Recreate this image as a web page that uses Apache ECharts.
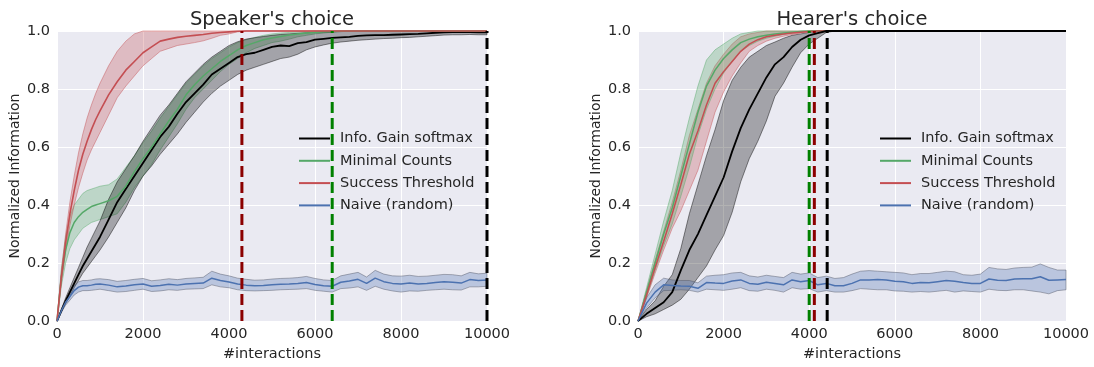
<!DOCTYPE html>
<html>
<head>
<meta charset="utf-8">
<script src="https://cdn.jsdelivr.net/npm/echarts@6/dist/echarts.min.js"></script>
<style>html,body{margin:0;padding:0;background:#fff}#c{width:1094px;height:367px}</style>
</head>
<body>
<div id="c"></div>
<script>
// ---------------- DATA ----------------
const NAMES = ['Info. Gain softmax', 'Minimal Counts', 'Success Threshold', 'Naive (random)'];
const TITLES = ["Speaker's choice", "Hearer's choice"];
const X_TICKS = [0, 2000, 4000, 6000, 8000, 10000];
const Y_TICKS = [0, 0.2, 0.4, 0.6, 0.8, 1.0];

// Left chart (Speaker's choice)
const L_X = [0,100,200,300,400,500,600,700,800,900,1000,1200,1400,1600,1800,2000,2200,2400,2600,2800,3000,3200,3400,3600,3800,4000,4200,4400,4600,4800,5000,5200,5400,5600,5800,6000,6200,6400,6600,6800,7000,7200,7400,7600,7800,8000,8200,8400,8600,8800,9000,9200,9400,9600,9800,10000];
const L_INFO = [0,0.035,0.07,0.10,0.13,0.16,0.19,0.215,0.24,0.265,0.29,0.35,0.41,0.455,0.50,0.545,0.59,0.635,0.67,0.715,0.755,0.785,0.815,0.85,0.87,0.89,0.91,0.92,0.925,0.935,0.945,0.95,0.948,0.958,0.962,0.97,0.973,0.976,0.978,0.98,0.983,0.985,0.986,0.986,0.987,0.988,0.989,0.99,0.992,0.994,0.995,0.996,0.996,0.996,0.995,0.995];
const L_INFO_LO = [0,0.03,0.06,0.085,0.115,0.14,0.165,0.185,0.205,0.225,0.245,0.29,0.34,0.39,0.45,0.50,0.535,0.575,0.61,0.645,0.685,0.72,0.755,0.785,0.81,0.83,0.85,0.865,0.875,0.885,0.895,0.905,0.91,0.92,0.935,0.945,0.952,0.958,0.962,0.965,0.968,0.97,0.972,0.974,0.975,0.977,0.978,0.98,0.982,0.984,0.986,0.987,0.987,0.988,0.987,0.987];
const L_INFO_HI = [0,0.04,0.08,0.115,0.15,0.185,0.22,0.255,0.285,0.315,0.345,0.42,0.48,0.525,0.57,0.62,0.665,0.71,0.745,0.785,0.825,0.855,0.885,0.91,0.93,0.95,0.963,0.972,0.977,0.981,0.985,0.988,0.99,0.992,0.994,0.995,0.996,0.997,0.998,0.999,0.999,1,1,1,1,1,1,1,1,1,1,1,1,1,1,1];
const L_MIN = [0,0.15,0.245,0.305,0.34,0.36,0.375,0.385,0.395,0.40,0.405,0.415,0.43,0.465,0.515,0.56,0.60,0.645,0.69,0.73,0.78,0.815,0.845,0.87,0.895,0.915,0.935,0.95,0.96,0.97,0.976,0.981,0.986,0.99,0.993,0.995,0.997,0.998,0.999,1,1,1,1,1,1,1,1,1,1,1,1,1,1,1,1,1];
const L_MIN_LO = [0,0.12,0.20,0.25,0.28,0.30,0.32,0.33,0.34,0.345,0.35,0.36,0.37,0.41,0.46,0.50,0.54,0.59,0.635,0.68,0.73,0.77,0.80,0.83,0.86,0.885,0.905,0.925,0.94,0.95,0.96,0.965,0.972,0.98,0.985,0.99,0.993,0.996,1,1,1,1,1,1,1,1,1,1,1,1,1,1,1,1,1,1];
const L_MIN_HI = [0,0.18,0.29,0.36,0.40,0.42,0.44,0.45,0.455,0.46,0.465,0.47,0.49,0.53,0.57,0.615,0.655,0.70,0.74,0.78,0.82,0.85,0.88,0.905,0.925,0.945,0.96,0.97,0.978,0.985,0.99,0.993,0.995,0.997,0.998,1,1,1,1,1,1,1,1,1,1,1,1,1,1,1,1,1,1,1,1,1];
const L_SUC = [0,0.15,0.27,0.37,0.45,0.52,0.575,0.62,0.66,0.695,0.725,0.78,0.825,0.865,0.895,0.925,0.945,0.965,0.972,0.978,0.982,0.985,0.988,0.992,0.995,0.997,0.999,1,1,1,1,1,1,1,1,1,1,1,1,1,1,1,1,1,1,1,1,1,1,1,1,1,1,1,1,1];
const L_SUC_LO = [0,0.13,0.24,0.33,0.40,0.46,0.51,0.555,0.59,0.62,0.65,0.71,0.77,0.81,0.845,0.88,0.905,0.93,0.94,0.95,0.955,0.96,0.966,0.975,0.985,0.99,0.997,1,1,1,1,1,1,1,1,1,1,1,1,1,1,1,1,1,1,1,1,1,1,1,1,1,1,1,1,1];
const L_SUC_HI = [0,0.17,0.30,0.41,0.50,0.58,0.645,0.70,0.745,0.785,0.82,0.88,0.93,0.965,0.99,1,1,1,1,1,1,1,1,1,1,1,1,1,1,1,1,1,1,1,1,1,1,1,1,1,1,1,1,1,1,1,1,1,1,1,1,1,1,1,1,1];
const L_NAI = [0,0.035,0.065,0.085,0.105,0.117,0.122,0.122,0.124,0.127,0.128,0.124,0.118,0.121,0.125,0.128,0.12,0.123,0.127,0.124,0.128,0.13,0.131,0.148,0.14,0.135,0.128,0.124,0.122,0.123,0.125,0.127,0.128,0.13,0.133,0.126,0.122,0.12,0.134,0.138,0.144,0.13,0.148,0.136,0.13,0.128,0.131,0.128,0.13,0.133,0.136,0.134,0.131,0.143,0.14,0.142];
const L_NAI_LO = [0,0.03,0.055,0.072,0.09,0.1,0.105,0.105,0.106,0.108,0.11,0.105,0.1,0.102,0.106,0.11,0.102,0.104,0.108,0.106,0.11,0.111,0.112,0.125,0.118,0.115,0.108,0.105,0.104,0.105,0.106,0.108,0.109,0.11,0.112,0.106,0.103,0.1,0.112,0.114,0.118,0.106,0.12,0.11,0.104,0.1,0.104,0.103,0.106,0.108,0.11,0.108,0.107,0.118,0.118,0.12];
const L_NAI_HI = [0,0.04,0.075,0.1,0.122,0.135,0.14,0.14,0.142,0.145,0.146,0.143,0.137,0.14,0.144,0.147,0.139,0.142,0.146,0.143,0.147,0.149,0.151,0.172,0.162,0.156,0.148,0.144,0.141,0.142,0.145,0.147,0.148,0.15,0.154,0.147,0.142,0.14,0.156,0.162,0.168,0.152,0.175,0.162,0.156,0.155,0.158,0.154,0.155,0.158,0.161,0.16,0.156,0.168,0.163,0.165];
const L_VLINES = [4300, 6400, 10000];

// Right chart (Hearer's choice)
const R_X = [0,200,400,600,800,1000,1200,1400,1600,1800,2000,2200,2400,2600,2800,3000,3200,3400,3600,3800,4000,4200,4400,4600,4800,5000,5200,5400,5600,5800,6000,6200,6400,6600,6800,7000,7200,7400,7600,7800,8000,8200,8400,8600,8800,9000,9200,9400,9600,9800,10000];
const R_INFO = [0,0.025,0.045,0.065,0.1,0.175,0.245,0.3,0.365,0.43,0.495,0.585,0.665,0.73,0.785,0.84,0.885,0.91,0.945,0.97,0.985,0.993,1,1,1,1,1,1,1,1,1,1,1,1,1,1,1,1,1,1,1,1,1,1,1,1,1,1,1,1,1];
const R_INFO_LO = [0,0.015,0.025,0.04,0.055,0.075,0.11,0.15,0.19,0.245,0.295,0.375,0.48,0.56,0.62,0.69,0.775,0.82,0.875,0.925,0.955,0.975,0.995,1,1,1,1,1,1,1,1,1,1,1,1,1,1,1,1,1,1,1,1,1,1,1,1,1,1,1,1];
const R_INFO_HI = [0,0.04,0.07,0.12,0.16,0.25,0.37,0.47,0.57,0.66,0.76,0.83,0.875,0.91,0.93,0.95,0.962,0.975,0.985,0.99,0.995,1,1,1,1,1,1,1,1,1,1,1,1,1,1,1,1,1,1,1,1,1,1,1,1,1,1,1,1,1,1];
const R_MIN = [0,0.1,0.2,0.3,0.39,0.5,0.61,0.72,0.81,0.865,0.905,0.935,0.96,0.972,0.98,0.985,0.99,0.993,0.996,0.998,1,1,1,1,1,1,1,1,1,1,1,1,1,1,1,1,1,1,1,1,1,1,1,1,1,1,1,1,1,1,1];
const R_MIN_LO = [0,0.085,0.175,0.26,0.335,0.43,0.53,0.64,0.73,0.80,0.855,0.895,0.93,0.95,0.965,0.975,0.982,0.988,0.993,0.996,1,1,1,1,1,1,1,1,1,1,1,1,1,1,1,1,1,1,1,1,1,1,1,1,1,1,1,1,1,1,1];
const R_MIN_HI = [0,0.115,0.23,0.345,0.45,0.58,0.70,0.81,0.9,0.935,0.955,0.975,0.99,0.995,1,1,1,1,1,1,1,1,1,1,1,1,1,1,1,1,1,1,1,1,1,1,1,1,1,1,1,1,1,1,1,1,1,1,1,1,1];
const R_SUC = [0,0.09,0.185,0.275,0.37,0.47,0.575,0.655,0.745,0.82,0.86,0.895,0.93,0.955,0.97,0.98,0.985,0.99,0.993,0.996,0.998,1,1,1,1,1,1,1,1,1,1,1,1,1,1,1,1,1,1,1,1,1,1,1,1,1,1,1,1,1,1];
const R_SUC_LO = [0,0.08,0.165,0.245,0.32,0.38,0.45,0.52,0.62,0.72,0.79,0.845,0.89,0.93,0.95,0.965,0.975,0.982,0.988,0.993,0.997,1,1,1,1,1,1,1,1,1,1,1,1,1,1,1,1,1,1,1,1,1,1,1,1,1,1,1,1,1,1];
const R_SUC_HI = [0,0.105,0.21,0.31,0.41,0.52,0.64,0.73,0.82,0.88,0.92,0.955,0.98,0.99,0.995,1,1,1,1,1,1,1,1,1,1,1,1,1,1,1,1,1,1,1,1,1,1,1,1,1,1,1,1,1,1,1,1,1,1,1,1];
const R_NAI = [0,0.062,0.1,0.125,0.123,0.121,0.12,0.113,0.133,0.131,0.13,0.138,0.142,0.13,0.127,0.134,0.13,0.125,0.142,0.136,0.14,0.125,0.13,0.122,0.122,0.13,0.142,0.142,0.143,0.142,0.137,0.136,0.13,0.133,0.132,0.136,0.14,0.137,0.133,0.13,0.13,0.145,0.141,0.14,0.145,0.146,0.146,0.153,0.141,0.142,0.143];
const R_NAI_LO = [0,0.045,0.08,0.105,0.106,0.108,0.106,0.1,0.11,0.108,0.106,0.11,0.115,0.105,0.103,0.11,0.106,0.1,0.115,0.11,0.112,0.1,0.105,0.1,0.1,0.105,0.112,0.11,0.108,0.108,0.104,0.103,0.1,0.102,0.1,0.103,0.106,0.1,0.104,0.102,0.1,0.11,0.106,0.105,0.108,0.108,0.104,0.1,0.094,0.105,0.108];
const R_NAI_HI = [0,0.08,0.125,0.148,0.142,0.14,0.14,0.132,0.155,0.158,0.16,0.166,0.168,0.156,0.152,0.158,0.154,0.15,0.168,0.162,0.166,0.15,0.155,0.147,0.15,0.162,0.172,0.174,0.172,0.17,0.168,0.166,0.16,0.164,0.164,0.168,0.172,0.17,0.16,0.158,0.162,0.185,0.18,0.178,0.183,0.185,0.186,0.197,0.185,0.176,0.176];
const R_VLINES = [4000, 4120, 4420];

// ---------------- STYLE ----------------
const FONT = 'DejaVu Sans';
const TXT = '#262626';
const C_INFO = '#000000', C_MIN = '#55A868', C_SUC = '#C44E52', C_NAI = '#4C72B0';
const RGB = { info: '0,0,0', min: '85,168,104', suc: '196,78,82', nai: '76,114,176' };
const VLINE_COLORS = ['#8B0000', '#008000', '#000000'];
const VLINE_COLORS_R = ['#008000', '#8B0000', '#000000'];

function meanSeries(name, color, width, gi, xs, ys, z) {
  return {
    name, type: 'line', xAxisIndex: gi, yAxisIndex: gi,
    data: xs.map((x, i) => [x, ys[i]]),
    symbol: 'none', showSymbol: false, clip: false, silent: true, z,
    lineStyle: { color, width }, itemStyle: { color }
  };
}
function bandSeries(gi, xs, lo, hi, rgb, z, stroke) {
  return {
    type: 'custom', xAxisIndex: gi, yAxisIndex: gi, silent: true, z,
    data: [[xs[0], lo[0]]],
    renderItem: function (params, api) {
      const pts = [];
      for (let i = 0; i < xs.length; i++) pts.push(api.coord([xs[i], hi[i]]));
      for (let i = xs.length - 1; i >= 0; i--) pts.push(api.coord([xs[i], lo[i]]));
      return { type: 'polygon', shape: { points: pts },
        style: { fill: 'rgba(' + rgb + ',0.3)', stroke: stroke || ('rgba(' + rgb + ',0.45)'), lineWidth: 1 } };
    }
  };
}
function vlineSeries(gi, x, color, z) {
  return {
    type: 'line', xAxisIndex: gi, yAxisIndex: gi, data: [[x, 0], [x, 1]],
    symbol: 'none', clip: false, silent: true, z,
    lineStyle: { color, width: 3, type: [11, 5] }
  };
}

const grids = [
  { left: 57, top: 31, width: 430, height: 294 },
  { left: 638, top: 31, width: 428, height: 294 }
].map(g => Object.assign(g, { show: true, backgroundColor: '#EAEAF2', borderWidth: 0, containLabel: false }));

function xAxis(gi) {
  return {
    type: 'value', gridIndex: gi, min: 0, max: 10000, interval: 2000,
    name: '#interactions', nameLocation: 'middle', nameGap: 24,
    nameTextStyle: { fontFamily: FONT, fontSize: 14.5, color: TXT },
    axisLine: { show: false }, axisTick: { show: false },
    axisLabel: { fontFamily: FONT, fontSize: 14.5, color: TXT, margin: 6,
      customValues: X_TICKS, formatter: v => String(v) },
    splitLine: { show: true, lineStyle: { color: '#ffffff', width: 1 } }
  };
}
function yAxis(gi) {
  return {
    type: 'value', gridIndex: gi, min: 0, max: 1, interval: 0.2,
    name: 'Normalized Information', nameLocation: 'middle', nameGap: 35,
    nameTextStyle: { fontFamily: FONT, fontSize: 14, color: TXT },
    axisLine: { show: false }, axisTick: { show: false },
    axisLabel: { fontFamily: FONT, fontSize: 14.5, color: TXT, margin: 7,
      formatter: v => v.toFixed(1) },
    splitLine: { show: true, lineStyle: { color: '#ffffff', width: 1 } }
  };
}
const LEGEND_COLORS = [C_INFO, C_MIN, C_SUC, C_NAI];
function legend(left) {
  return {
    left, top: 131, padding: 0, orient: 'vertical',
    data: NAMES.map((n, i) => ({ name: n, icon: 'rect', itemStyle: { color: LEGEND_COLORS[i] } })),
    itemWidth: 31, itemHeight: 2, itemGap: 7.3, selectedMode: false,
    textStyle: { fontFamily: FONT, fontSize: 14.5, color: TXT, lineHeight: 14, padding: [0, 0, 0, 5] }
  };
}

const series = [
  // left bands
  bandSeries(0, L_X, L_MIN_LO, L_MIN_HI, RGB.min, 1),
  bandSeries(0, L_X, L_INFO_LO, L_INFO_HI, RGB.info, 1),
  bandSeries(0, L_X, L_SUC_LO, L_SUC_HI, RGB.suc, 1),
  bandSeries(0, L_X, L_NAI_LO, L_NAI_HI, RGB.nai, 1, 'rgba(80,85,100,0.45)'),
  meanSeries(NAMES[0], C_INFO, 1.8, 0, L_X, L_INFO, 3),
  meanSeries(NAMES[1], C_MIN, 1.5, 0, L_X, L_MIN, 3),
  meanSeries(NAMES[2], C_SUC, 1.6, 0, L_X, L_SUC, 4),
  meanSeries(NAMES[3], C_NAI, 1.5, 0, L_X, L_NAI, 4),
  // right bands
  bandSeries(1, R_X, R_INFO_LO, R_INFO_HI, RGB.info, 1),
  bandSeries(1, R_X, R_SUC_LO, R_SUC_HI, RGB.suc, 1),
  bandSeries(1, R_X, R_MIN_LO, R_MIN_HI, RGB.min, 1),
  bandSeries(1, R_X, R_NAI_LO, R_NAI_HI, RGB.nai, 1, 'rgba(80,85,100,0.45)'),
  meanSeries(NAMES[1], C_MIN, 1.5, 1, R_X, R_MIN, 3),
  meanSeries(NAMES[2], C_SUC, 1.5, 1, R_X, R_SUC, 3),
  meanSeries(NAMES[0], C_INFO, 1.8, 1, R_X, R_INFO, 4),
  meanSeries(NAMES[3], C_NAI, 1.5, 1, R_X, R_NAI, 4)
];
L_VLINES.forEach((x, i) => series.push(vlineSeries(0, x, VLINE_COLORS[i], 6)));
R_VLINES.forEach((x, i) => series.push(vlineSeries(1, x, VLINE_COLORS_R[i], 6)));

const chart = echarts.init(document.getElementById('c'), null, { renderer: 'canvas' });
chart.setOption({
  animation: false,
  backgroundColor: '#ffffff',
  title: [
    { text: TITLES[0], left: 272, top: 10, padding: 0, textAlign: 'center',
      textStyle: { fontFamily: FONT, fontSize: 19.5, fontWeight: 'normal', color: TXT } },
    { text: TITLES[1], left: 852, top: 10, padding: 0, textAlign: 'center',
      textStyle: { fontFamily: FONT, fontSize: 19.5, fontWeight: 'normal', color: TXT } }
  ],
  legend: [legend(299), legend(880)],
  grid: grids,
  xAxis: [xAxis(0), xAxis(1)],
  yAxis: [yAxis(0), yAxis(1)],
  series
});
</script>
</body>
</html>
